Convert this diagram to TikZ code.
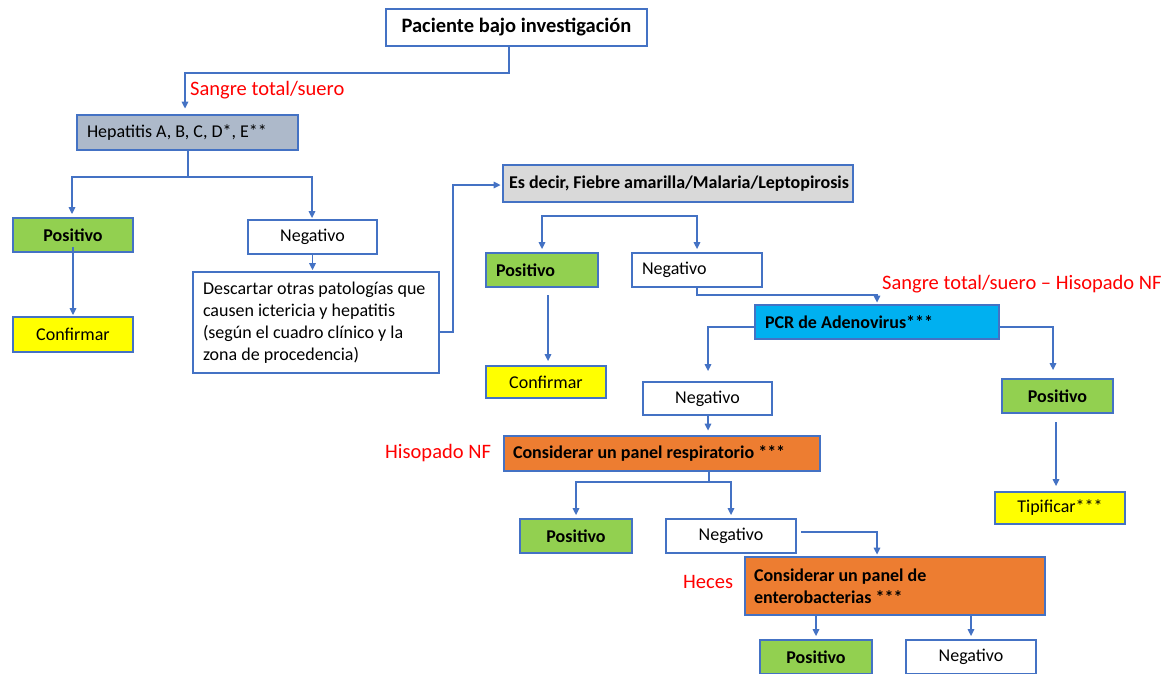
\documentclass[tikz,border=0pt]{standalone}
\usepackage{fontspec}
\setmainfont{Carlito}
\usetikzlibrary{arrows.meta}
\definecolor{myblue}{HTML}{4472C4}
\definecolor{hepfill}{HTML}{ADB9CA}
\definecolor{grayfill}{HTML}{D9D9D9}
\definecolor{greenfill}{HTML}{92D050}
\definecolor{yellowfill}{HTML}{FFFF00}
\definecolor{cyanfill}{HTML}{00B0F0}
\definecolor{orangefill}{HTML}{ED7D31}
\definecolor{redtext}{HTML}{FF0000}
\newcommand\fs{\fontsize{18}{22}\selectfont}
\newcommand\fsr{\fontsize{20.5}{24}\selectfont}
\tikzset{
  box/.style={draw=myblue, line width=1.8pt, inner sep=0pt, font=\fs, align=center, fill=white},
  thickbox/.style={box, line width=2.8pt},
  greenbox/.style={box, fill=greenfill, font=\fs\bfseries},
  yellowbox/.style={box, fill=yellowfill},
  redlabel/.style={text=redtext, font=\fsr, inner sep=0pt, anchor=west},
  conn/.style={draw=myblue, line width=1.5pt},
  arr/.style={conn, -{Triangle[length=7pt,width=6.5pt]}, shorten >=1pt},
  dblarr/.style={conn, {Triangle[length=7pt,width=6.5pt]}-{Triangle[length=7pt,width=6.5pt]}, shorten >=1pt, shorten <=1pt},
}
\begin{document}
\begin{tikzpicture}[x=1pt,y=-1pt]
\useasboundingbox (0,0) rectangle (1167,673);
\clip (0,0) rectangle (1167,673);
\fill[white] (0,0) rectangle (1167,673);

% nodes
\node[box, font=\fontsize{20.5}{24}\selectfont\bfseries, minimum width=261pt, minimum height=37pt] (pac) at (516.5,27.5) {Paciente bajo investigación};
\node[thickbox, fill=hepfill, align=flush left, inner xsep=10pt, text width=201pt, minimum height=35pt] (hep) at (187.5,132.5) {\mbox{Hepatitis A, B, C, D*, E**}};
\node[greenbox, minimum width=120pt, minimum height=34pt] (posL) at (73,235) {Positivo};
\node[yellowbox, minimum width=120pt, minimum height=35pt] (confL) at (73,334.5) {Confirmar};
\node[box, minimum width=129pt, minimum height=34pt] (negL) at (312.5,237) {Negativo};
\node[box, align=flush left, inner xsep=10pt, text width=226pt, minimum height=101pt] (desc) at (316,322.5) {\mbox{Descartar otras patologías que}\\\mbox{causen ictericia y hepatitis}\\\mbox{(según el cuadro clínico y la}\\\mbox{zona de procedencia)}};
\node[thickbox, fill=grayfill, font=\fs\bfseries, align=flush left, inner xsep=6pt, text width=338pt, minimum height=37pt] (esd) at (678,183.5) {\mbox{Es decir, Fiebre amarilla/Malaria/Leptopirosis}};
\node[greenbox, align=flush left, inner xsep=10pt, text width=92pt, minimum height=34pt] (posM) at (542,270) {Positivo};
\node[box, align=flush left, inner xsep=10pt, text width=110pt, minimum height=34pt] (negM) at (697,270) {Negativo};
\node[yellowbox, minimum width=120pt, minimum height=32pt] (confM) at (546,382) {Confirmar};
\node[thickbox, fill=cyanfill, font=\fs\bfseries, align=flush left, inner xsep=10pt, text width=224pt, minimum height=34pt] (pcr) at (877,322) {\mbox{PCR de Adenovirus***}};
\node[box, minimum width=129pt, minimum height=33pt] (neg2) at (707.5,398.5) {Negativo};
\node[greenbox, minimum width=111pt, minimum height=34pt] (posR) at (1057.5,396) {Positivo};
\node[yellowbox, minimum width=130pt, minimum height=32pt] (tip) at (1060,508) {Tipificar***};
\node[thickbox, fill=orangefill, font=\fs\bfseries, align=flush left, inner xsep=9pt, text width=298pt, minimum height=35pt] (resp) at (662,453.5) {\mbox{Considerar un panel respiratorio ***}};
\node[greenbox, minimum width=112pt, minimum height=34pt] (pos3) at (576,536) {Positivo};
\node[box, minimum width=130pt, minimum height=34pt] (neg3) at (731,536) {Negativo};
\node[thickbox, fill=orangefill, font=\fs\bfseries, align=flush left, inner xsep=9pt, text width=282pt, minimum height=58pt] (ent) at (895,586) {\mbox{Considerar un panel de}\\\mbox{enterobacterias ***}};
\node[greenbox, minimum width=112pt, minimum height=34pt] (pos4) at (816,657) {Positivo};
\node[box, minimum width=130pt, minimum height=34pt] (neg4) at (971,657) {Negativo};

% red labels
\node[redlabel] (lab1) at (190,90) {Sangre total/suero};
\node[redlabel] (lab2) at (882,284) {Sangre total/suero – Hisopado NF};
\node[redlabel] (lab3) at (385,453) {Hisopado NF};
\node[redlabel] (lab4) at (683,582) {Heces};

% junction coordinates
\coordinate (a1) at (509,73);
\coordinate (a2) at (185,73);
\coordinate (b0) at (188,177);
\coordinate (bL) at (72,177);
\coordinate (bR) at (312,177);
\coordinate (c1) at (453,332);
\coordinate (c2) at (453,185);
\coordinate (d1) at (542,216);
\coordinate (d2) at (697,216);
\coordinate (e1) at (548,295);
\coordinate (f1) at (697,295);
\coordinate (f2) at (877,295);
\coordinate (g1) at (708,327);
\coordinate (g2) at (1053,327);
\coordinate (h1) at (1056,422);
\coordinate (m0) at (709,482);
\coordinate (mL) at (576,482);
\coordinate (mR) at (731,482);
\coordinate (k1) at (801,532);
\coordinate (k2) at (877,532);
\coordinate (n1) at (816,615);
\coordinate (n2) at (971,615);
\coordinate (p1) at (73,247);

% connectors
\draw[arr] (pac.south -| a1) -- (a1) -- (a2) -- ([yshift=4pt]hep.north -| a2);
\draw[conn] (hep.south -| b0) -- (b0);
\draw[dblarr] ([yshift=2pt]posL.north -| bL) -- (bL) -- (bR) -- (negL.north -| bR);
\draw[arr] (p1) -- (confL.north -| p1);
\draw[arr] (negL.south) -- (desc.north -| negL.south);
\draw[arr] (desc.east |- c1) -- (c1) -- (c2) -- (esd.west |- c2);
\draw[dblarr] ([yshift=2pt]posM.north -| d1) -- (d1) -- (d2) -- ([yshift=2pt]negM.north -| d2);
\draw[arr] (e1) -- ([yshift=3pt]confM.north -| e1);
\draw[arr] (negM.south -| f1) -- (f1) -- (f2) -- (pcr.north -| f2);
\draw[arr] (pcr.west |- g1) -- (g1) -- ([yshift=9pt]neg2.north -| g1);
\draw[arr] (pcr.east |- g2) -- (g2) -- ([yshift=7pt]posR.north -| g2);
\draw[arr] (h1) -- ([yshift=4pt]tip.north -| h1);
\draw[arr] (neg2.south -| g1) -- ([yshift=3pt]resp.north -| g1);
\draw[conn] (resp.south -| m0) -- (m0);
\draw[dblarr] ([yshift=2pt]pos3.north -| mL) -- (mL) -- (mR) -- ([yshift=2pt]neg3.north -| mR);
\draw[arr] (k1) -- (k2) -- (ent.north -| k2);
\draw[arr] (n1) -- ([yshift=2pt]pos4.north -| n1);
\draw[arr] (n2) -- ([yshift=2pt]neg4.north -| n2);
\end{tikzpicture}
\end{document}
